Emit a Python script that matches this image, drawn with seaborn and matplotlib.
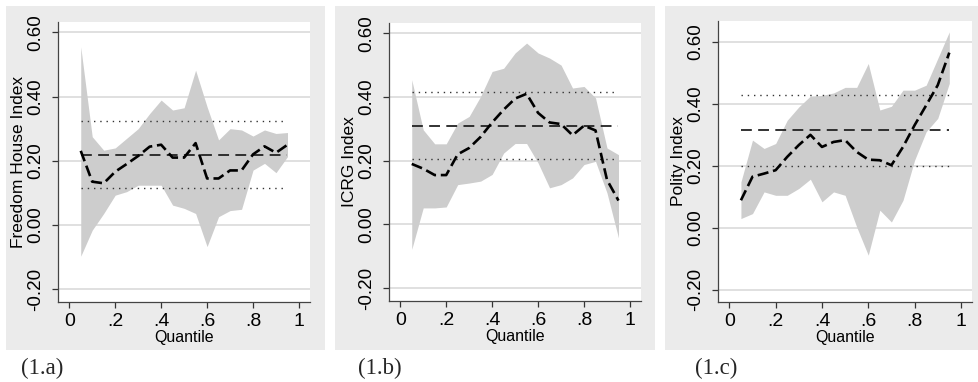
import matplotlib
matplotlib.use("Agg")
import matplotlib.pyplot as plt
import seaborn as sns
import pandas as pd
import numpy as np
from matplotlib.patches import Rectangle

sns.set_theme(style="white")
plt.rcParams['font.family'] = ['Liberation Sans', 'DejaVu Sans']

# quantiles estimated
quantiles = [0.05, 0.10, 0.15, 0.20, 0.25, 0.30, 0.35, 0.40, 0.45, 0.50,
             0.55, 0.60, 0.65, 0.70, 0.75, 0.80, 0.85, 0.90, 0.95]

# (1.a) Freedom House
fh_coef = [0.231, 0.135, 0.130, 0.166, 0.190, 0.215, 0.244, 0.250, 0.210, 0.210,
           0.255, 0.145, 0.145, 0.170, 0.170, 0.220, 0.245, 0.225, 0.250]
fh_upper = [0.555, 0.275, 0.233, 0.240, 0.270, 0.300, 0.347, 0.389, 0.358, 0.365,
            0.482, 0.368, 0.265, 0.300, 0.296, 0.277, 0.296, 0.285, 0.288]
fh_lower = [-0.097, -0.016, 0.036, 0.093, 0.104, 0.124, 0.124, 0.124, 0.062, 0.052,
            0.036, -0.067, 0.026, 0.045, 0.049, 0.171, 0.192, 0.163, 0.213]
fh_ols = [0.218, 0.116, 0.324]   # estimate, lower, upper

# (1.b) ICRG
icrg_coef = [0.190, 0.175, 0.155, 0.155, 0.220, 0.240, 0.275, 0.320, 0.360, 0.395,
             0.410, 0.350, 0.320, 0.315, 0.280, 0.310, 0.295, 0.140, 0.075]
icrg_upper = [0.454, 0.297, 0.253, 0.253, 0.318, 0.339, 0.402, 0.480, 0.490, 0.538,
              0.569, 0.538, 0.522, 0.500, 0.428, 0.433, 0.397, 0.240, 0.219]
icrg_lower = [-0.078, 0.052, 0.052, 0.055, 0.125, 0.130, 0.136, 0.157, 0.224, 0.254,
              0.254, 0.193, 0.115, 0.125, 0.146, 0.188, 0.198, 0.099, -0.042]
icrg_ols = [0.310, 0.205, 0.415]

# (1.c) Polity
pol_coef = [0.089, 0.165, 0.175, 0.186, 0.229, 0.267, 0.300, 0.261, 0.277, 0.283,
            0.245, 0.220, 0.218, 0.202, 0.261, 0.331, 0.395, 0.460, 0.565]
pol_upper = [0.148, 0.283, 0.256, 0.272, 0.347, 0.390, 0.425, 0.427, 0.435, 0.453,
             0.453, 0.530, 0.380, 0.392, 0.444, 0.444, 0.460, 0.546, 0.632]
pol_lower = [0.030, 0.046, 0.116, 0.105, 0.105, 0.127, 0.157, 0.084, 0.116, 0.105,
             0.003, -0.088, 0.057, 0.019, 0.089, 0.218, 0.310, 0.353, 0.466]
pol_ols = [0.315, 0.199, 0.427]

ylabels = ["Freedom House Index", "ICRG Index", "Polity Index"]
panel_tags = ["(1.a)", "(1.b)", "(1.c)"]
yticks = [-0.2, 0.0, 0.2, 0.4, 0.6]
xticks = [0, 0.2, 0.4, 0.6, 0.8, 1]
xticklabels = ["0", ".2", ".4", ".6", ".8", "1"]

panels = [
    (fh_coef, fh_lower, fh_upper, fh_ols),
    (icrg_coef, icrg_lower, icrg_upper, icrg_ols),
    (pol_coef, pol_lower, pol_upper, pol_ols),
]

W, H = 979, 382
fig = plt.figure(figsize=(W / 100, H / 100), dpi=100)
fig.patch.set_facecolor("white")

# outer grey boxes (pixels: x0, x1) and axes rectangles (left, right, top, bottom)
grey_boxes = [(6, 325), (335, 655), (665, 979)]
axes_px = [(58, 310, 22, 302), (389, 641, 23, 301), (718, 972, 21, 302)]
ylims = [(-0.2395, 0.632), (-0.24, 0.632), (-0.239, 0.667)]
tag_x = [21, 358, 695]

for i, (coef, lo, hi, ols) in enumerate(panels):
    gx0, gx1 = grey_boxes[i]
    fig.patches.append(Rectangle((gx0 / W, 1 - 350 / H), (gx1 - gx0) / W, (350 - 6) / H,
                                 transform=fig.transFigure, facecolor="#ebebeb",
                                 edgecolor="none", zorder=-5))
    l, r, t, b = axes_px[i]
    ax = fig.add_axes([l / W, 1 - b / H, (r - l) / W, (b - t) / H])
    ax.set_zorder(1)
    ax.set_facecolor("white")

    for yt in yticks:
        ax.axhline(yt, color="#e0e0e0", lw=1.4, zorder=0)

    ax.fill_between(quantiles, lo, hi, color="#cdcdcd", lw=0, zorder=1)
    df = pd.DataFrame({"q": quantiles, "b": coef})
    sns.lineplot(data=df, x="q", y="b", ax=ax, color="black", lw=1.9, zorder=4)
    ax.lines[-1].set_linestyle((0, (4.2, 1.8)))
    ax.hlines(ols[0], quantiles[0], quantiles[-1], color="#222222", lw=1.3,
              linestyles=(0, (6, 3.5)), zorder=3)
    ax.hlines(ols[1:], quantiles[0], quantiles[-1], color="#333333", lw=1.0,
              linestyles=(0, (1, 3.5)), zorder=3)

    ax.set_xlim(-0.049, 1.048)
    ax.set_ylim(*ylims[i])
    ax.set_xticks(xticks)
    ax.set_xticklabels(xticklabels, fontsize=14)
    ax.set_yticks(yticks)
    ax.set_yticklabels([f"{v:.2f}" for v in yticks], fontsize=13.5, rotation=90, va="center")
    ax.tick_params(axis="both", direction="out", length=4, width=0.9, color="#333333",
                   left=True, bottom=True, labelcolor="black")
    ax.tick_params(axis="y", pad=6)
    ax.tick_params(axis="x", pad=4)
    for s in ["top", "right"]:
        ax.spines[s].set_visible(False)
    for s in ["left", "bottom"]:
        ax.spines[s].set_color("#444444")
        ax.spines[s].set_linewidth(0.9)
    ax.set_xlabel("Quantile", fontsize=11.5, labelpad=0, color="black")
    ax.set_ylabel(ylabels[i], fontsize=12.5, labelpad=1, color="black")

    fig.text(tag_x[i] / W, 1 - 368 / H, panel_tags[i], fontsize=16.5,
             family="Liberation Serif", va="center", ha="left")

fig.savefig("out.png", dpi=100, facecolor="white")
